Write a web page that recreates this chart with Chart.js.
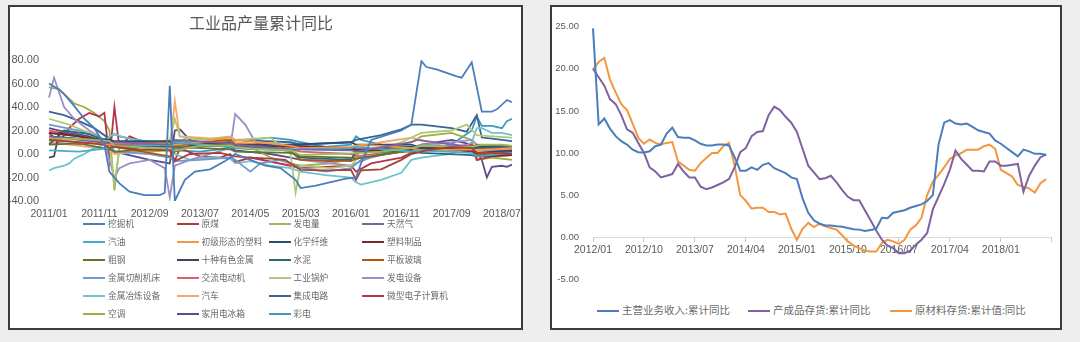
<!DOCTYPE html>
<html>
<head>
<meta charset="utf-8">
<script src="https://cdn.jsdelivr.net/npm/chart.js@4.4.1/dist/chart.umd.min.js"></script>
<style>
  html, body { margin: 0; padding: 0; }
  body { width: 1080px; height: 342px; background: #eeeeee; position: relative; overflow: hidden;
         font-family: "Noto Sans CJK SC", "Liberation Sans", sans-serif; }
  .panel { position: absolute; background: #fff; border: 2px solid #3c3c3c; box-sizing: border-box; }
  canvas { position: absolute; }
  .legend-item { position: absolute; white-space: nowrap; color: #6a6a6a; line-height: 1; }
  .legend-item i { display: inline-block; height: 2px; vertical-align: middle; margin-right: 3px; }
</style>
</head>
<body>
<div class="panel" style="left:8px; top:5px; width:515px; height:325px;"></div>
<div class="panel" style="left:550px; top:5px; width:512px; height:325px;"></div>
<canvas id="left-chart" width="511" height="221" style="left:10px; top:7px;"></canvas>
<canvas id="right-chart" width="507" height="292" style="left:553px; top:7px;"></canvas>
<div id="left-legend"></div>
<div id="right-legend"></div>

<script>
// ---- left chart: 工业品产量累计同比, [month index from 2011/01, value] ----
const leftTitle = "工业品产量累计同比";
const leftYTicks = [-40, -20, 0, 20, 40, 60, 80];

const excavator = [[0,60],[2,55],[3,51],[5,41],[7,30],[9,22],[11,8],[12,-15],[14,-25],[16,-32],[19,-35],[22,-35],[23,-33],[24,58],[25,-40],[27,-22],[29,-15],[32,-13],[35,-6],[37,0],[40,-5],[43,-10],[46,-12],[49,-22],[50,-29],[53,-27],[56,-24],[59,-21],[61,-20],[62,-8],[64,12],[67,16],[70,20],[72,25],[74,79],[75,74],[77,72],[79,69],[81,66],[82,65],[84,78],[86,36],[88,36],[89,38],[91,46],[92,44]];
const coal = [[0,12],[6,10],[11,8],[12,5],[13,6],[18,4],[24,3],[25,-6],[28,0],[34,1],[37,-2],[40,-3],[44,-4],[47,-5],[48,-8],[50,-13.5],[55,-14],[60,-13.5],[61,-22],[62,-14],[66,-13],[70,-5],[72,0],[75,3],[80,6],[84,5],[85,1],[88,1],[92,0]];
const power = [[0,13],[6,13],[12,11],[13,7],[20,5],[24,5],[25,3],[30,7],[36,7.5],[37,6],[42,4],[48,3],[50,-1],[55,0],[60,0.5],[62,1],[66,2],[72,5],[74,7],[80,6],[84,6],[86,8],[90,8],[92,7]];
const gas = [[0,15],[6,12],[12,9],[13,10],[24,8],[25,12],[36,9],[37,8],[48,4],[60,3],[61,2],[72,10],[73,12],[84,6],[85,8],[92,7]];
const gasoline = [[0,3],[6,2],[12,5],[13,6],[24,8],[25,10],[36,6],[37,5],[48,4],[60,5],[61,6],[72,2],[73,3],[84,1],[85,-2],[92,1]];
const plastics = [[0,12],[6,10],[12,8],[13,9],[24,9],[25,8],[30,10],[34,13],[36,14],[37,12],[42,10],[48,7],[50,5],[60,6],[62,8],[72,5],[74,3],[84,4],[85,3],[92,5]];
const fiber = [[0,15],[6,13],[12,12],[13,11],[24,11],[25,9],[36,6],[37,5],[48,8],[60,10],[61,8],[72,8],[74,5],[84,4],[85,6],[92,7]];
const plasticGoods = [[0,18],[6,15],[12,11],[13,10],[24,9],[25,8],[36,8],[37,7],[48,6],[60,4],[61,3],[72,4],[74,6],[84,2],[85,-2],[92,-1]];
const steel = [[0,8],[6,9],[12,4],[13,2],[24,5],[25,6],[36,4],[37,2],[48,1],[50,-2],[60,-3],[61,-4],[72,3],[74,5],[84,6],[85,5],[92,6]];
const metals = [[0,-3],[1,-2],[2,18],[6,15],[12,10],[13,9],[24,9],[25,10],[36,9],[37,8],[48,8],[50,7],[60,5],[61,4],[72,6],[74,5],[84,3],[85,1],[92,3]];
const cement = [[0,8],[3,20],[8,17],[12,10],[13,7],[24,6],[25,4],[36,9],[37,5],[48,3],[50,-3],[60,-5],[61,2],[72,2],[74,1],[84,-1],[85,-2],[92,2]];
const glass = [[0,18],[6,15],[12,8],[13,6],[24,-2],[25,2],[30,10],[36,12],[37,8],[48,3],[50,-5],[60,-6],[61,-4],[72,3],[74,4],[84,3],[85,0],[92,-1]];
const machineTools = [[0,25],[6,20],[12,10],[13,2],[20,0],[24,-3],[25,-6],[30,-5],[36,-3],[37,-5],[40,-15],[42,-8],[46,-5],[48,-8],[50,-12],[55,-15],[60,-12],[62,-5],[66,0],[72,5],[74,8],[84,5],[85,3],[92,3]];
const motors = [[0,20],[6,15],[12,9],[13,8],[24,8],[25,6],[36,8],[37,6],[48,4],[50,2],[60,0],[61,-2],[72,4],[74,5],[84,7],[85,5],[92,6]];
const boilers = [[0,30],[4,25],[8,18],[12,8],[13,-25],[14,5],[24,12],[25,30],[26,15],[30,12],[36,15],[37,12],[44,14],[48,0],[49,-33],[50,-10],[56,-12],[60,-10],[61,-5],[64,3],[70,10],[74,18],[80,20],[83,25],[85,16],[88,15],[92,14]];
const genEquip = [[0,48],[1,65],[3,40],[5,30],[8,20],[11,12],[12,-5],[13,-20],[14,-12],[16,-8],[20,-5],[23,-12],[24,-37],[25,-10],[28,-5],[32,0],[36,5],[37,34],[39,25],[41,10],[44,5],[48,2],[50,-5],[56,-8],[60,-10],[61,-8],[64,-3],[70,3],[74,8],[80,10],[84,12],[85,8],[88,5],[92,5]];
const smeltEquip = [[0,-14],[1,-12],[3,-10],[4,-8],[5,-4],[6,-2],[7,0],[9,5],[11,8],[12,15],[13,17],[15,14],[20,10],[24,8],[25,0],[28,-5],[32,-3],[36,-4],[37,-8],[40,-6],[44,-10],[48,-12],[50,-15],[55,-18],[60,-20],[61,-24],[62,-26],[66,-22],[70,-16],[72,-5],[74,-3],[80,0],[84,10],[85,22],[86,22],[88,18],[90,18],[92,16]];
const autos = [[0,10],[6,7],[12,4],[13,0],[20,3],[24,5],[25,45],[26,15],[30,14],[36,12],[37,10],[48,7],[50,6],[60,4],[61,5],[66,10],[72,14],[74,12],[80,5],[84,3],[85,1],[92,2]];
const chips = [[0,36],[3,33],[6,28],[9,22],[12,13],[13,8],[18,10],[24,10],[25,8],[36,10],[37,12],[48,10],[50,8],[60,10],[61,12],[66,16],[70,21],[72,25],[74,25],[80,22],[83,19],[85,33],[86,14],[88,13],[90,12],[92,11]];
const computers = [[0,18],[2,10],[4,22],[6,30],[8,35],[10,32],[11,35],[12,-5],[13,40],[14,5],[16,15],[20,8],[24,5],[25,-6],[26,5],[30,-2],[34,-3],[36,0],[37,-7],[40,-3],[48,-10],[50,-12],[60,-10],[61,-15],[64,-8],[70,-3],[74,5],[80,6],[84,8],[85,-5],[88,-2],[92,-1]];
const aircon = [[0,57],[2,55],[5,43],[7,40],[9,35],[11,28],[12,20],[13,-31],[14,6],[20,2],[24,3],[25,10],[28,14],[32,12],[36,11],[37,10],[40,6],[44,-3],[48,-8],[50,-10],[56,-8],[60,-4],[62,2],[66,5],[72,10],[74,15],[80,18],[84,12],[85,-5],[88,-3],[92,-5]];
const fridges = [[0,22],[4,18],[8,15],[12,9],[13,2],[20,-5],[24,-8],[25,20],[26,21],[28,12],[32,8],[36,6],[37,3],[44,0],[48,-3],[50,-5],[56,-6],[60,-4],[62,2],[68,6],[72,4],[74,8],[80,12],[84,8],[86,-5],[87,-20],[88,-11],[90,-10],[91,-11],[92,-9]];
const tvs = [[0,10],[6,8],[12,14],[13,17],[14,15],[20,10],[24,6],[25,3],[30,2],[36,5],[37,7],[40,12],[44,14],[48,12],[50,10],[55,6],[60,8],[61,15],[62,12],[66,8],[72,6],[74,4],[80,8],[84,20],[85,32],[86,24],[88,24],[90,22],[91,28],[92,30]];

const leftNames = ["挖掘机","原煤","发电量","天然气","汽油","初级形态的塑料","化学纤维","塑料制品",
  "粗钢","十种有色金属","水泥","平板玻璃","金属切削机床","交流电动机","工业锅炉","发电设备",
  "金属冶炼设备","汽车","集成电路","微型电子计算机","空调","家用电冰箱","彩电"];
const leftSeries = [excavator, coal, power, gas, gasoline, plastics, fiber, plasticGoods,
  steel, metals, cement, glass, machineTools, motors, boilers, genEquip,
  smeltEquip, autos, chips, computers, aircon, fridges, tvs];
const leftColors = ["#4a7ebb","#a5403d","#9bbb59","#8064a2","#4bacc6","#f79646","#2c4d75","#772c2a",
  "#5f7530","#4d3b62","#276a7c","#b65708","#729aca","#d9616a","#afc97a","#a08dc8",
  "#6fc3cb","#f9a86a","#3a6593","#b6334a","#9bae40","#5f4b8b","#3c9ac0"];

// ---- right chart: monthly from 2012/01 ----
const revenue = [24.8,13.4,14.1,12.9,12.0,11.4,11.0,10.4,10.1,10.05,
  10.2,10.8,11.0,12.3,13.0,11.9,11.8,11.8,11.5,11.1,
  10.9,10.9,11.0,11.0,10.9,9.5,7.9,7.9,8.3,8.0,
  8.6,8.8,8.2,7.9,7.6,7.1,6.9,4.6,2.9,2.0,
  1.6,1.4,1.4,1.3,1.25,1.1,0.95,0.9,0.75,0.85,
  1.0,2.3,2.25,2.9,3.05,3.2,3.5,3.7,3.9,4.3,
  5.0,11.0,13.6,13.9,13.5,13.4,13.5,13.1,12.7,12.5,
  12.3,11.5,11.1,10.6,10.1,9.6,10.4,10.2,9.9,9.9,
  9.8];
const finishedGoods = [20.0,19.0,18.0,16.4,15.8,14.5,12.8,12.4,11.2,10.0,
  8.3,7.8,7.1,7.3,7.5,8.7,7.8,7.1,7.1,6.0,
  5.7,5.9,6.2,6.5,6.9,8.3,10.1,10.6,12.0,12.5,
  12.6,14.5,15.5,15.1,14.3,13.6,12.5,10.5,8.5,7.7,
  6.9,7.0,7.3,6.5,5.6,4.8,4.4,4.4,3.2,2.0,
  0.8,-0.3,-1.0,-1.3,-1.9,-1.9,-1.6,-0.9,-0.3,0.5,
  3.3,4.8,6.3,8.0,10.3,9.3,8.6,7.9,7.9,7.8,
  9.0,9.0,8.5,8.5,8.6,8.7,5.4,7.3,8.5,9.5,
  9.8];
const rawMaterials = [19.9,20.8,21.3,18.7,17.2,15.8,15.1,13.5,11.8,11.1,
  11.6,11.2,11.0,11.2,11.3,9.0,8.5,8.0,7.9,8.8,
  9.4,10.0,10.0,10.8,11.2,8.5,5.0,4.3,3.4,3.5,
  3.5,3.0,3.0,2.7,2.8,1.0,-0.3,1.0,1.7,1.2,
  1.6,1.3,1.1,0.9,0.2,-0.5,-1.0,-1.3,-1.6,-1.7,
  -1.7,-0.7,-0.3,-0.5,-0.8,-0.3,0.9,1.4,2.3,5.0,
  6.6,7.4,8.3,9.3,9.7,10.0,10.4,10.4,10.4,10.8,
  11.0,10.5,8.0,7.6,7.2,6.2,6.0,5.8,5.3,6.4,
  6.9];
const rightNames = ["主营业务收入:累计同比", "产成品存货:累计同比", "原材料存货:累计值:同比"];
const rightColors = ["#4a7ebb", "#7e62a1", "#f4963f"];
const rightYTicks = [-5, 0, 5, 10, 15, 20, 25];

function monthRange(year, month, count) {
  const out = [];
  for (let k = 0; k < count; k++) {
    const m = month - 1 + k;
    out.push(`${year + Math.floor(m / 12)}/${String(m % 12 + 1).padStart(2, "0")}`);
  }
  return out;
}
const leftMonths = monthRange(2011, 1, 93);   // 2011/01 .. 2018/09
const rightMonths = monthRange(2012, 1, 82);  // 2012/01 .. 2018/10

Chart.defaults.font.family = "'Liberation Sans', 'Noto Sans CJK SC', sans-serif";
Chart.defaults.color = "#595959";

const leftChart = new Chart(document.getElementById("left-chart"), {
  type: "line",
  data: {
    labels: leftMonths,
    datasets: leftSeries.map((pts, k) => ({
      label: leftNames[k],
      data: pts.map(([i, v]) => ({ x: leftMonths[i], y: v })),
      borderColor: leftColors[k],
      borderWidth: 1.8,
      pointRadius: 0,
      tension: 0,
    })),
  },
  options: {
    responsive: false,
    animation: false,
    layout: { padding: { top: 0, left: 0, right: 9, bottom: 0 } },
    plugins: {
      legend: { display: false },
      tooltip: { enabled: false },
      title: {
        display: true,
        text: leftTitle,
        color: "#595959",
        font: { family: "'Noto Sans CJK SC'", size: 16, weight: "normal" },
        padding: { top: 6.4, bottom: 27.4 },
      },
    },
    scales: {
      x: {
        offset: false,
        grid: { display: false, drawTicks: false },
        border: { display: false },
        afterFit: (s) => { s.height = 27; },
        ticks: {
          autoSkip: false, maxRotation: 0, padding: 6.4,
          font: { size: 10.5 },
          callback: function (v, i) { return i % 10 === 0 ? this.getLabelForValue(v) : ""; },
        },
      },
      y: {
        min: leftYTicks[0], max: leftYTicks[leftYTicks.length - 1],
        grid: { display: false, drawTicks: false },
        border: { display: false },
        afterFit: (s) => { s.width = 39; },
        ticks: { stepSize: 20, padding: 10, font: { size: 11 }, callback: (v) => v.toFixed(2) },
      },
    },
  },
});

const rightSeries = [revenue, finishedGoods, rawMaterials];
const rightChart = new Chart(document.getElementById("right-chart"), {
  type: "line",
  data: {
    labels: rightMonths,
    datasets: rightSeries.map((vals, k) => ({
      label: rightNames[k],
      data: vals,
      borderColor: rightColors[k],
      borderWidth: 2,
      pointRadius: 0,
      tension: 0,
    })),
  },
  options: {
    responsive: false,
    animation: false,
    layout: { padding: { top: 11.3, left: 0, right: 8.2, bottom: 9.5 } },
    plugins: { legend: { display: false }, tooltip: { enabled: false } },
    scales: {
      x: {
        position: { y: 0 },
        offset: false,
        grid: {
          display: true, drawOnChartArea: false, drawTicks: true, tickLength: 4,
          color: (ctx) => (ctx.index % 9 === 0 ? "#c8c8c8" : "rgba(0,0,0,0)"),
        },
        border: { display: true, color: "#d9d9d9" },
        ticks: {
          autoSkip: false, maxRotation: 0, padding: 2.5,
          font: { size: 10.5 },
          callback: function (v, i) { return i % 9 === 0 && i <= 72 ? this.getLabelForValue(v) : ""; },
        },
      },
      y: {
        min: rightYTicks[0], max: rightYTicks[rightYTicks.length - 1],
        grid: { display: false, drawTicks: false },
        border: { display: false },
        afterFit: (s) => { s.width = 40; },
        ticks: { stepSize: 5, padding: 14, font: { size: 9.5 }, callback: (v) => v.toFixed(2) },
      },
    },
  },
});

// html legends, built from the chart datasets
function renderLegend(el, chart, place, fontSize, lineLen) {
  el.innerHTML = chart.data.datasets.map((ds, k) => {
    const p = place(k);
    return `<div class="legend-item" style="left:${p.x}px; top:${p.y - fontSize * 0.55}px; font-size:${fontSize}px;">` +
      `<i style="width:${lineLen}px; background:${ds.borderColor};"></i>${ds.label}</div>`;
  }).join("");
}
const leftCols = [83, 176.5, 268.5, 362];
renderLegend(document.getElementById("left-legend"), leftChart,
  (k) => ({ x: leftCols[k % 4], y: 224.5 + 18 * Math.floor(k / 4) }), 8.7, 22);
const rightCols = [597, 748, 890];
renderLegend(document.getElementById("right-legend"), rightChart,
  (k) => ({ x: rightCols[k], y: 311 }), 10.5, 22);
</script>
</body>
</html>
